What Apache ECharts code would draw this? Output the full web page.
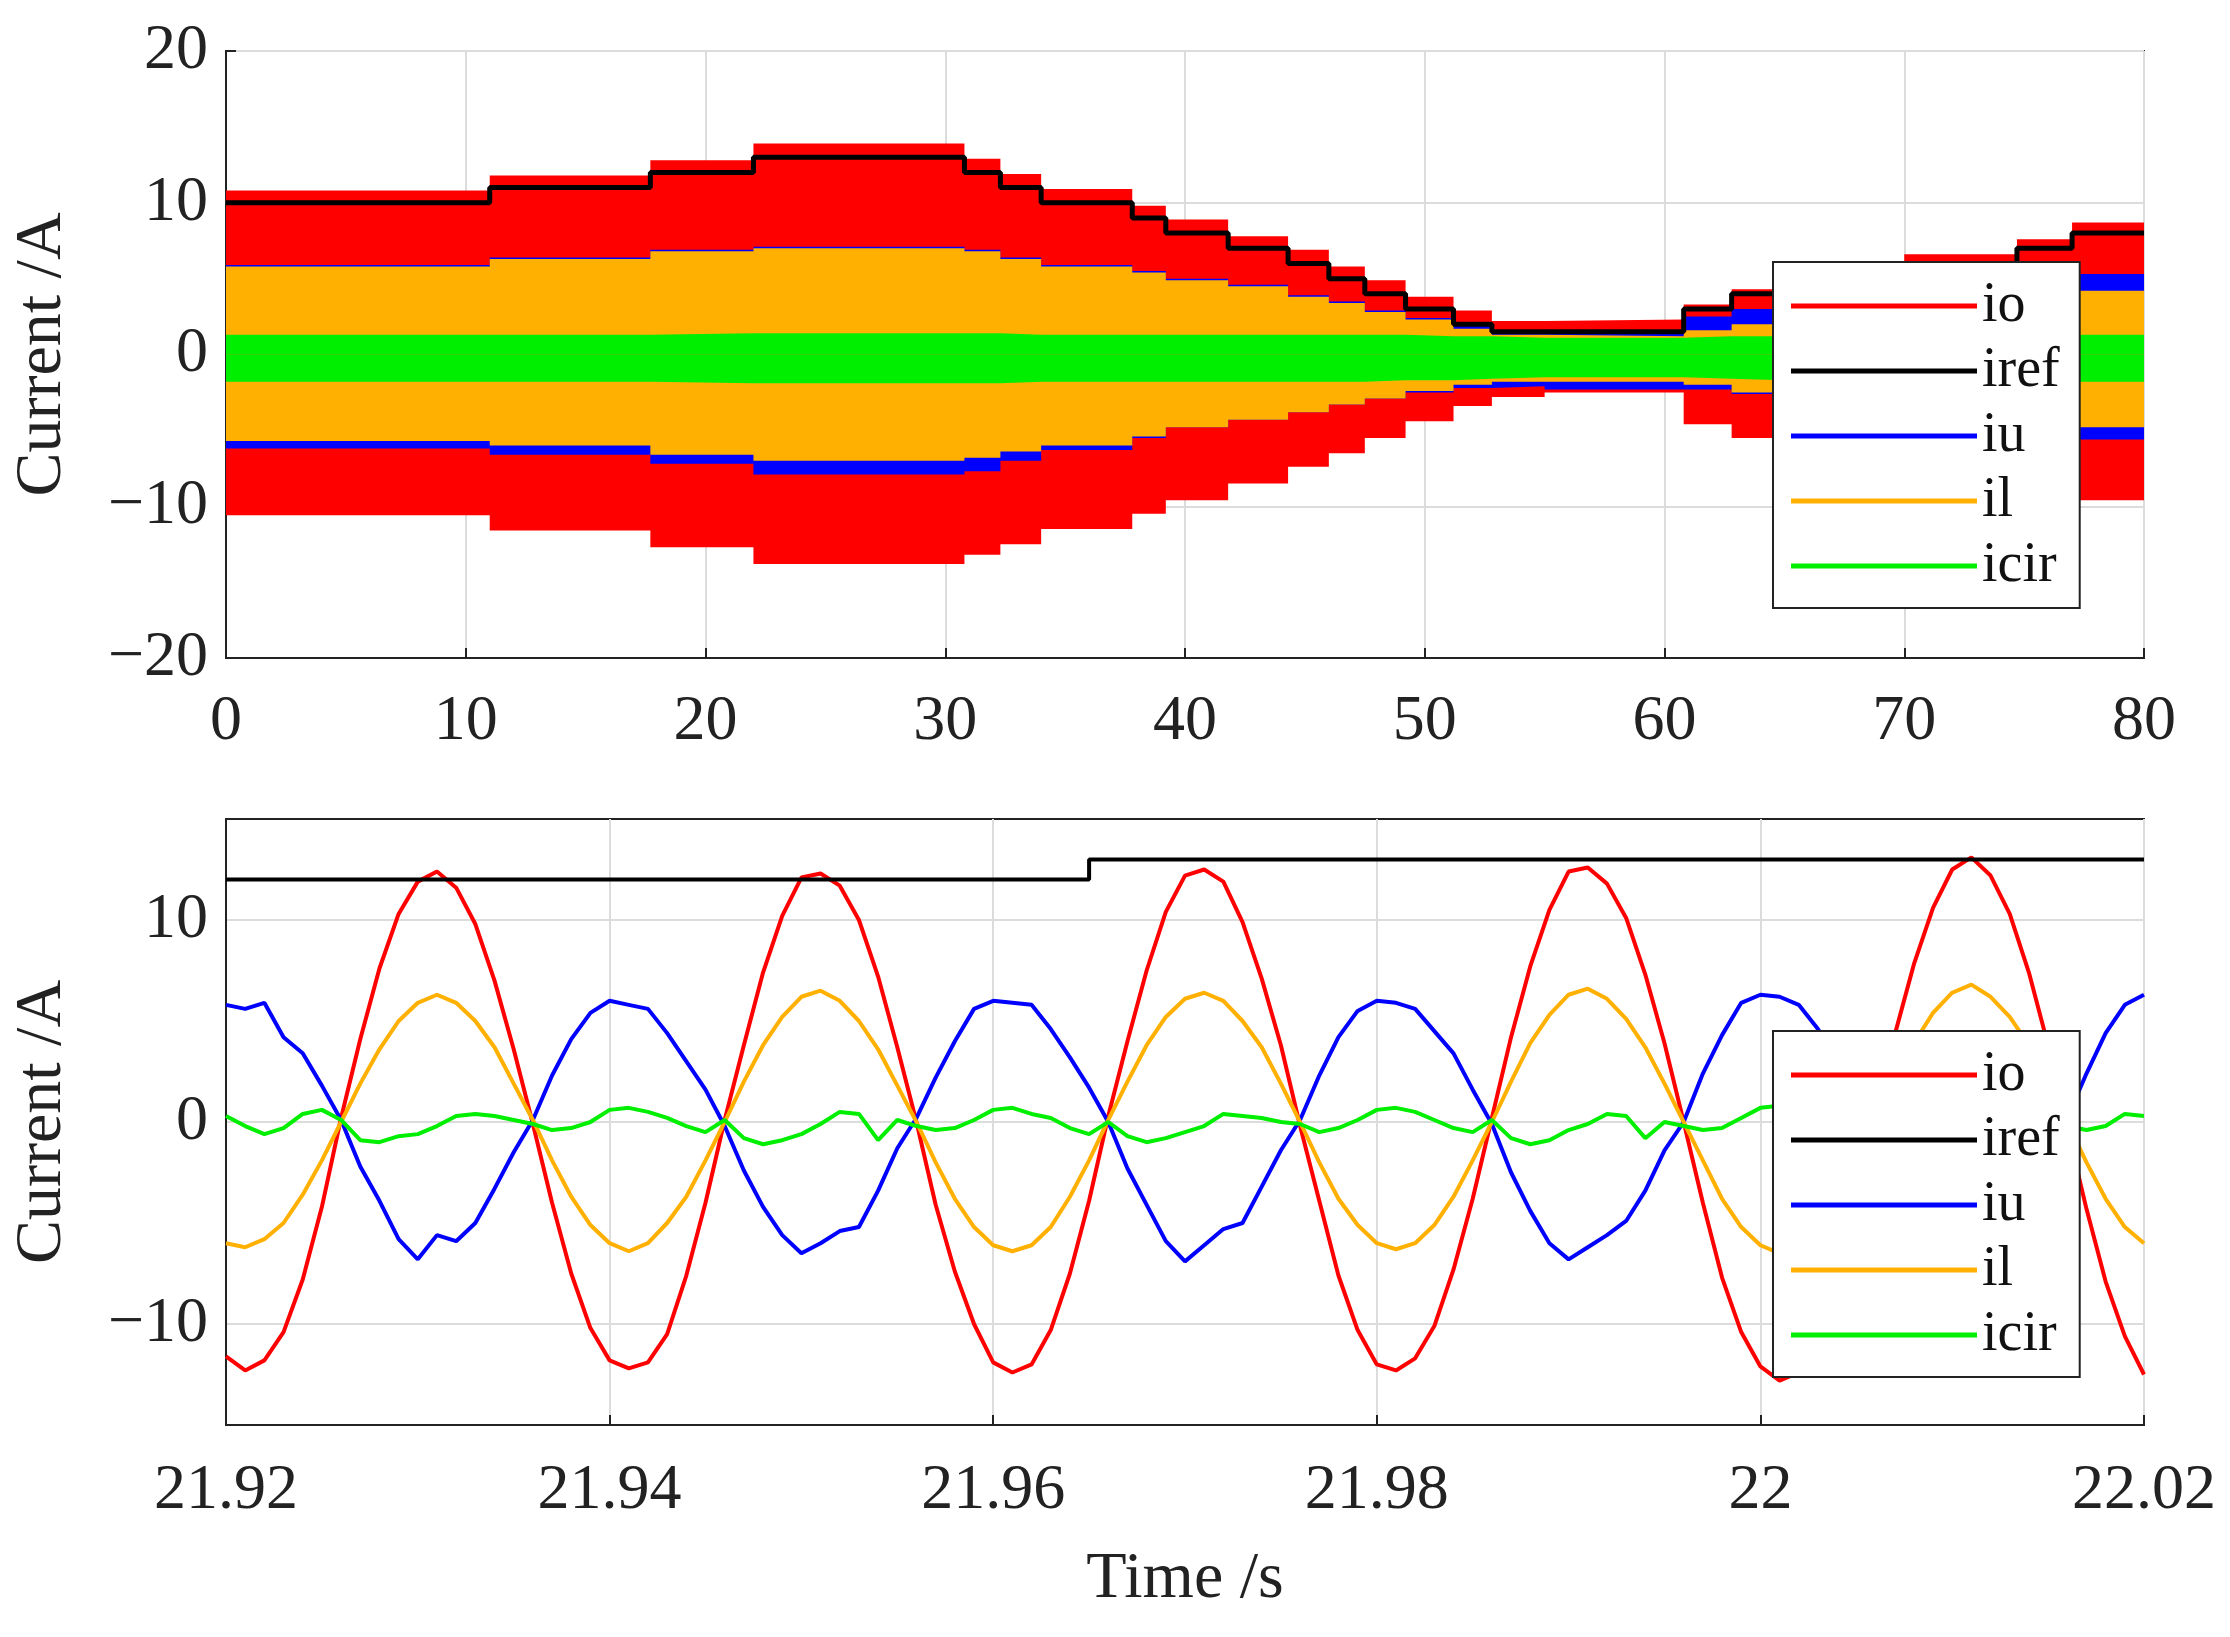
<!DOCTYPE html>
<html><head><meta charset="utf-8">
<script src="https://cdn.jsdelivr.net/npm/echarts@6/dist/echarts.min.js"></script>
<style>html,body{margin:0;background:#fff}#c{width:2230px;height:1637px}</style>
</head><body><div id="c"></div>
<script>
// ---- Top panel: envelope per iref step segment ----
const segT   = [0, 11, 17.7, 22, 30.8, 32.3, 34, 37.8, 39.2, 41.8, 44.3, 46, 47.5, 49.2, 51.2, 52.8, 55, 60.8, 62.8, 65, 70, 74.7, 77];
const segEnd = 80;
const irefTop= [10, 11, 12, 13, 12, 11, 10, 9, 8, 7, 6, 5, 4, 3, 2, 1.5, 1.5, 3, 4, 5, 6, 7, 8];
const ioUp   = [10.8,11.8,12.8,13.9,12.9,11.9,10.9,9.8,8.9,7.8,6.9,5.8,4.9,3.8,2.9,2.2,2.3,3.3,4.3,5.3,6.6,7.6,8.7];
const ioLo   = [-10.6,-11.6,-12.7,-13.8,-13.2,-12.5,-11.5,-10.5,-9.6,-8.5,-7.4,-6.5,-5.5,-4.4,-3.4,-2.8,-2.5,-4.6,-5.5,-6.5,-7.8,-8.8,-9.6];
const ilUp   = [5.8,6.3,6.8,7.0,6.8,6.3,5.8,5.4,4.9,4.5,3.8,3.4,2.8,2.3,1.7,1.3,1.2,1.6,2.0,2.6,3.3,3.8,4.2];
const ilLo   = [-5.7,-6.0,-6.6,-7.0,-6.8,-6.4,-6.0,-5.4,-4.8,-4.3,-3.8,-3.3,-2.9,-2.4,-2.0,-1.8,-1.8,-2.0,-2.5,-3.2,-3.8,-4.4,-4.8];
const iuUp   = [5.9,6.4,6.9,7.1,6.9,6.4,5.9,5.5,5.0,4.6,3.9,3.5,2.9,2.4,1.9,1.6,1.6,2.5,3.0,3.5,4.2,4.8,5.3];
const iuLo   = [-6.2,-6.6,-7.2,-7.9,-7.7,-7.0,-6.3,-5.5,-4.8,-4.3,-3.8,-3.3,-2.9,-2.5,-2.2,-2.1,-2.3,-2.3,-2.6,-3.4,-4.2,-5.0,-5.6];
const icUp   = [1.3,1.3,1.4,1.4,1.4,1.3,1.3,1.3,1.3,1.3,1.3,1.3,1.3,1.2,1.2,1.1,1.1,1.2,1.2,1.3,1.3,1.3,1.3];
const icLo   = [-1.8,-1.8,-1.9,-1.9,-1.9,-1.8,-1.8,-1.8,-1.8,-1.8,-1.8,-1.8,-1.7,-1.7,-1.6,-1.5,-1.5,-1.6,-1.7,-1.7,-1.8,-1.8,-1.8];
const topXTicks = [0,80,10];
const topYTicks = [-20,20,10];

// ---- Bottom panel: sampled waveforms, 1 ms step ----
const tStart = 21.92, tStep = 0.001;
const io = [-11.6,-12.3,-11.8,-10.4,-7.8,-4.2,0.2,4.1,7.6,10.3,11.9,12.4,11.6,9.8,7.0,3.6,-0.1,-4.0,-7.5,-10.2,
 -11.8,-12.2,-11.9,-10.5,-7.6,-4.0,0.1,3.8,7.4,10.2,12.1,12.3,11.7,10.0,7.2,3.7,0.0,-4.1,-7.4,-10.0,
 -11.9,-12.4,-12.0,-10.3,-7.5,-3.9,0.3,4.0,7.5,10.4,12.2,12.5,11.9,9.9,7.1,3.8,-0.2,-3.9,-7.6,-10.3,
 -12.0,-12.3,-11.7,-10.1,-7.3,-3.8,0.2,4.2,7.7,10.5,12.4,12.6,11.8,10.1,7.3,3.9,0.0,-4.0,-7.7,-10.4,
 -12.1,-12.8,-12.4,-10.6,-7.4,-3.7,0.1,4.3,7.8,10.6,12.5,13.1,12.2,10.3,7.4,3.8,-0.3,-4.3,-7.9,-10.6,-12.5];
const il = [-6.0,-6.2,-5.8,-5.0,-3.6,-1.9,0.0,1.9,3.6,5.0,5.9,6.3,5.9,5.0,3.7,1.9,0.1,-1.9,-3.7,-5.1,
 -6.0,-6.4,-6.0,-5.0,-3.7,-1.9,0.0,2.0,3.8,5.2,6.2,6.5,6.0,5.0,3.6,1.8,0.0,-2.0,-3.8,-5.2,
 -6.1,-6.4,-6.1,-5.2,-3.7,-1.9,0.1,2.0,3.8,5.2,6.1,6.4,6.0,5.0,3.7,1.9,0.0,-2.0,-3.8,-5.1,
 -6.0,-6.3,-6.0,-5.1,-3.7,-1.9,0.0,2.0,3.9,5.3,6.3,6.6,6.1,5.1,3.7,1.9,0.0,-1.9,-3.8,-5.2,
 -6.1,-6.5,-6.1,-5.2,-3.8,-2.0,0.0,2.0,3.9,5.4,6.4,6.8,6.2,5.2,3.8,1.9,0.0,-2.0,-3.8,-5.2,-6.0];
const iu = [5.8,5.6,5.9,4.2,3.4,1.8,0.1,-2.2,-3.9,-5.8,-6.8,-5.6,-5.9,-5.0,-3.3,-1.5,0.1,2.3,4.1,5.4,
 6.0,5.8,5.6,4.4,3.0,1.6,-0.2,-2.4,-4.2,-5.6,-6.5,-6.0,-5.4,-5.2,-3.4,-1.3,0.2,2.2,4.0,5.6,
 6.0,5.9,5.8,4.6,3.2,1.7,0.0,-2.3,-4.1,-5.9,-6.9,-6.1,-5.3,-5.0,-3.2,-1.4,0.1,2.3,4.2,5.5,
 6.0,5.9,5.6,4.5,3.4,1.6,-0.1,-2.5,-4.4,-6.0,-6.8,-6.2,-5.6,-4.9,-3.4,-1.4,0.0,2.4,4.3,5.9,
 6.3,6.2,5.8,4.6,3.2,1.6,0.0,-2.2,-4.1,-5.8,-6.5,-6.0,-5.5,-4.6,-3.0,-1.0,0.2,2.4,4.4,5.8,6.3];
const icir = [0.3,-0.2,-0.6,-0.3,0.4,0.6,0.1,-0.9,-1.0,-0.7,-0.6,-0.2,0.3,0.4,0.3,0.1,-0.1,-0.4,-0.3,0.0,
 0.6,0.7,0.5,0.2,-0.2,-0.5,0.1,-0.8,-1.1,-0.9,-0.6,-0.1,0.5,0.4,-0.9,0.1,-0.2,-0.4,-0.3,0.1,
 0.6,0.7,0.4,0.2,-0.3,-0.6,0.0,-0.7,-1.0,-0.8,-0.5,-0.2,0.4,0.3,0.2,0.0,-0.1,-0.5,-0.3,0.1,
 0.6,0.7,0.5,0.1,-0.3,-0.5,0.1,-0.8,-1.1,-0.9,-0.4,-0.1,0.4,0.3,-0.8,0.0,-0.2,-0.4,-0.3,0.2,
 0.7,0.8,0.4,0.1,-0.2,-0.5,0.0,-0.8,-1.0,-0.9,-0.5,-0.1,0.4,0.4,0.2,0.0,-0.2,-0.4,-0.2,0.4,0.3];
const irefT = [21.92, 21.965, 22.02];
const irefV = [12, 13];
const botXTicks = [21.92, 22.02, 0.02];
const botYTicks = [-15, 15, 5];

const names = ['io','iref','iu','il','icir'];
const colors = {io:'#ff0000', iref:'#000000', iu:'#0000ff', il:'#ffb000', icir:'#00ee00'};

// ---- build ----
function steps(vals){
  const d=[];
  for(let i=0;i<segT.length;i++){
    const e = i+1<segT.length?segT[i+1]:segEnd;
    d.push([segT[i],vals[i]],[e,vals[i]]);
  }
  return d;
}
const F = 'Liberation Serif, Times New Roman, serif';
const tick = {fontFamily:F, fontSize:64, color:'#222'};
function area(name, vals, z){
  return {name, type:'line', xAxisIndex:0, yAxisIndex:0, data:steps(vals), symbol:'none', z,
    lineStyle:{width:0, color:colors[name]}, itemStyle:{color:colors[name]},
    areaStyle:{color:colors[name], opacity:1, origin:0}, silent:true, animation:false};
}
const series = [
  area('io',ioUp,1), area('io',ioLo,1),
  area('iu',iuUp,2), area('iu',iuLo,2),
  area('il',ilUp,3), area('il',ilLo,3),
  area('icir',icUp,4), area('icir',icLo,4),
  {name:'iref', type:'line', xAxisIndex:0, yAxisIndex:0, data:steps(irefTop), symbol:'none', z:5,
   lineStyle:{width:5,color:colors.iref}, itemStyle:{color:colors.iref}, animation:false}
];
const tb = io.map((_,k)=>+(tStart+k*tStep).toFixed(4));
const bot = {io, iu, il, icir};
['io','iu','il','icir'].forEach((n)=>{
  series.push({name:n, type:'line', xAxisIndex:1, yAxisIndex:1, symbol:'none', z:2,
    data: tb.map((t,k)=>[t,bot[n][k]]), lineStyle:{width:4,color:colors[n]}, itemStyle:{color:colors[n]}, animation:false});
});
const irefBot=[];
for(let i=0;i<irefV.length;i++){ irefBot.push([irefT[i],irefV[i]],[irefT[i+1],irefV[i]]); }
series.push({name:'iref', type:'line', xAxisIndex:1, yAxisIndex:1, symbol:'none', data:irefBot, z:2,
  lineStyle:{width:4,color:colors.iref}, itemStyle:{color:colors.iref}, animation:false});

const axLine = {show:true, onZero:false, lineStyle:{color:'#222', width:2}};
const split = {show:true, lineStyle:{color:'#dcdcdc', width:2}};
function legend(top){
  return {data:names, orient:'vertical', left:1773, top, width:317, padding:[14,20,12,18], z:20, zlevel:1,
    backgroundColor:'#fff', borderColor:'#222', borderWidth:2, icon:'rect', itemWidth:186, itemHeight:5,
    itemGap:5, textStyle:{fontFamily:F, fontSize:56, color:'#111', lineHeight:60}, selectedMode:false};
}
const opt = {
  backgroundColor:'#fff', animation:false,
  legend:[legend(262), legend(1031)],
  grid:[
    {left:226, right:86, top:51, height:607, show:true, borderColor:'#222', borderWidth:2, backgroundColor:'transparent'},
    {left:226, right:86, top:819, height:606, show:true, borderColor:'#222', borderWidth:2, backgroundColor:'transparent'}
  ],
  xAxis:[
    {type:'value', gridIndex:0, min:topXTicks[0], max:topXTicks[1], interval:topXTicks[2], axisLine:axLine,
     axisTick:{show:true, inside:true, length:10, lineStyle:{color:'#222',width:2}}, splitLine:split,
     axisLabel:{...tick, margin:32}},
    {type:'value', gridIndex:1, min:botXTicks[0], max:botXTicks[1], interval:botXTicks[2], axisLine:axLine,
     axisTick:{show:true, inside:true, length:10, lineStyle:{color:'#222',width:2}}, splitLine:split,
     axisLabel:{...tick, margin:34, formatter:v=>String(+(+v).toFixed(2))},
     name:'Time /s', nameLocation:'middle', nameGap:122, nameTextStyle:{fontFamily:F, fontSize:66, color:'#222'}}
  ],
  yAxis:[
    {type:'value', gridIndex:0, min:topYTicks[0], max:topYTicks[1], interval:topYTicks[2], axisLine:axLine,
     axisTick:{show:true, inside:true, length:10, lineStyle:{color:'#222',width:2}}, splitLine:split,
     axisLabel:{...tick, margin:18, formatter:v=>v<0?'\u2212'+(-v):String(v)},
     name:'Current /A', nameLocation:'middle', nameGap:150, nameTextStyle:{fontFamily:F, fontSize:66, color:'#222'}},
    {type:'value', gridIndex:1, min:botYTicks[0], max:botYTicks[1], interval:botYTicks[2], axisLine:axLine,
     axisTick:{show:false}, splitLine:{show:true, lineStyle:{color:['transparent','#dcdcdc'], width:2}},
     axisLabel:{...tick, margin:18, formatter:v=>(v%10===0)?(v<0?'\u2212'+(-v):String(v)):''},
     name:'Current /A', nameLocation:'middle', nameGap:150, nameTextStyle:{fontFamily:F, fontSize:66, color:'#222'}}
  ],
  series
};
echarts.init(document.getElementById('c')).setOption(opt);
</script></body></html>
